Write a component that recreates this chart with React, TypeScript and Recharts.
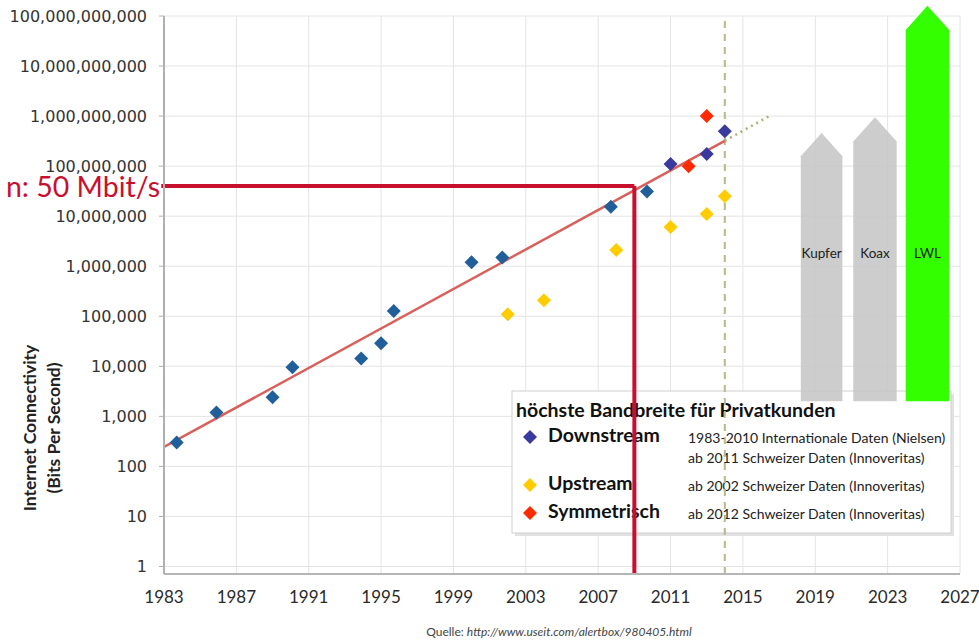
import React from "react";
import {
  CartesianGrid,
  ComposedChart,
  Customized,
  Line,
  ReferenceArea,
  ReferenceLine,
  Scatter,
  XAxis,
  YAxis,
} from "recharts";

// x axis: years, y axis: bits per second (log)
const yearTicks = [1983, 1987, 1991, 1995, 1999, 2003, 2007, 2011, 2015, 2019, 2023, 2027];
const minorYearTicks = Array.from({ length: 32 }, (_, i) => 1983 + i);
const bpsTicks = [1, 10, 100, 1e3, 1e4, 1e5, 1e6, 1e7, 1e8, 1e9, 1e10, 1e11];
const minorBpsTicks = bpsTicks.slice(0, -1).flatMap((d) => [2, 3, 4, 5, 6, 7, 8, 9].map((m) => m * d));
const bpsMin = 0.708;
const bpsMax = 1e11;

// Downstream 1983-2010 (Nielsen)
const nielsenYears = [1983.7, 1985.9, 1989, 1990.1, 1993.9, 1995, 1995.7, 2000, 2001.7, 2007.7, 2009.7];
const nielsenBps = [300, 1200, 2400, 9600, 14400, 28800, 128000, 1200000, 1500000, 15500000, 31000000];
// Downstream ab 2011 (Schweiz)
const swissDownYears = [2011, 2013, 2014];
const swissDownBps = [110000000, 175000000, 500000000];
// Upstream ab 2002
const upYears = [2002, 2004, 2008, 2011, 2013, 2014];
const upBps = [110000, 210000, 2100000, 6100000, 11000000, 25000000];
// Symmetrisch ab 2012
const symYears = [2012, 2013];
const symBps = [100000000, 1000000000];

// trend line and its dotted extension
const trendYears = [1983, 2014];
const trendBps = [245, 320000000];
const forecastYears = [2014, 2016.6];
const forecastBps = [320000000, 1070000000];

// technology arrows
const techNames = ["Kupfer", "Koax", "LWL"];
const techFrom = [2018.2, 2021.1, 2024.0];
const techTo = [2020.5, 2023.5, 2026.4];
const techPeak = [460000000, 950000000, 160000000000];
const techBase = 2000;
const techColors = ["#c6c6c6", "#c6c6c6", "#33ff00"];

// marker for 2009 / 50 Mbit/s
const markYear = 2009;
const markBps = 40000000;
const todayYear = 2014;

const toPoints = (years: number[], values: number[]) =>
  years.map((year, i) => ({ year, bps: values[i] }));

const FONT = "Lato, 'Open Sans', sans-serif";

const Diamond = (props: any) => {
  const { cx, cy, fill } = props;
  const r = 7;
  return <path d={`M${cx},${cy - r}L${cx + r},${cy}L${cx},${cy + r}L${cx - r},${cy}Z`} fill={fill} />;
};

const MinorYearTick = (props: any) => {
  const { x, y, payload } = props;
  const major = (payload.value - 1983) % 4 === 0;
  return <line x1={x} x2={x} y1={y} y2={y - (major ? 13 : 5)} stroke="#c6c6c6" strokeWidth={1.5} />;
};

const arrowShape = (label: string, color: string) => (props: any) => {
  const { x, y, width, height } = props;
  const head = width * 0.56;
  const bottom = y + height;
  return (
    <g>
      <path
        d={`M${x},${bottom}L${x},${y + head}L${x + width / 2},${y}L${x + width},${y + head}L${x + width},${bottom}Z`}
        fill={color}
        fillOpacity={color === "#33ff00" ? 1 : 0.88}
      />
      <text x={x + width / 2} y={bottom - 143} textAnchor="middle" fontFamily={FONT} fontSize={13.5} fill="#222">
        {label}
      </text>
    </g>
  );
};

const LegendBox = () => {
  const items = [
    { name: "Downstream", color: "#3a3a9e", y: 437, notes: ["1983-2010 Internationale Daten (Nielsen)", "ab 2011 Schweizer Daten (Innoveritas)"] },
    { name: "Upstream", color: "#ffcc00", y: 485, notes: ["ab 2002 Schweizer Daten (Innoveritas)"] },
    { name: "Symmetrisch", color: "#ff2a00", y: 513, notes: ["ab 2012 Schweizer Daten (Innoveritas)"] },
  ];
  return (
    <g fontFamily={FONT}>
      <rect x={515} y={394} width={439} height={142} fill="#e2e2e2" />
      <rect x={512} y={391} width={439} height={142} fill="#fff" stroke="#cfcfcf" />
      <text x={516} y={417} fontSize={19.5} fontWeight={700} fill="#111">
        höchste Bandbreite für Privatkunden
      </text>
      {items.map((it) => (
        <g key={it.name}>
          <Diamond cx={530} cy={it.y} fill={it.color} />
          <text x={548} y={it.y + 5} fontSize={19.5} fontWeight={700} fill="#111">
            {it.name}
          </text>
          {it.notes.map((n, i) => (
            <text key={n} x={688} y={it.y + 6 + i * 20} fontSize={14} fill="#222">
              {n}
            </text>
          ))}
        </g>
      ))}
    </g>
  );
};

const Annotations = () => (
  <g fontFamily={FONT}>
    <text x={160} y={197} textAnchor="end" fontSize={28.5} fill="#c8102e">
      n: 50 Mbit/s
    </text>
    <text transform="translate(36,428) rotate(-90)" textAnchor="middle" fontSize={17.5} fontWeight={700} fill="#222">
      Internet Connectivity
    </text>
    <text transform="translate(60,428) rotate(-90)" textAnchor="middle" fontSize={17.5} fontWeight={700} fill="#222">
      (Bits Per Second)
    </text>
    <text x={559} y={636} textAnchor="middle" fontSize={12} fill="#444">
      Quelle: <tspan fontStyle="italic">http://www.useit.com/alertbox/980405.html</tspan>
    </text>
  </g>
);

export default function App() {
  return (
    <div style={{ position: "absolute", left: 0, top: 0, width: 979, height: 641, background: "#fff" }}>
      <ComposedChart width={979} height={641} margin={{ top: 16, right: 19, bottom: 27, left: 0 }}>
        <CartesianGrid stroke="#e4e4e4" strokeWidth={1} />
        <XAxis
          xAxisId="minor"
          type="number"
          dataKey="year"
          domain={[1983, 2027]}
          ticks={minorYearTicks}
          allowDataOverflow
          height={0}
          axisLine={false}
          tickLine={false}
          tickSize={0}
          tick={<MinorYearTick />}
        />
        <XAxis
          type="number"
          dataKey="year"
          domain={[1983, 2027]}
          ticks={yearTicks}
          allowDataOverflow
          height={40}
          axisLine={{ stroke: "#b5b5b5", strokeWidth: 2 }}
          tickLine={false}
          tickSize={0}
          tickMargin={17}
          tick={{ fill: "#2a2a2a", fontSize: 17, fontFamily: FONT }}
        />
        <YAxis
          yAxisId="minor"
          scale="log"
          type="number"
          domain={[bpsMin, bpsMax]}
          ticks={minorBpsTicks}
          allowDataOverflow
          width={0}
          axisLine={false}
          tickSize={4}
          tickLine={{ stroke: "#c4c4c4" }}
          tickFormatter={() => ""}
        />
        <YAxis
          scale="log"
          type="number"
          dataKey="bps"
          domain={[bpsMin, bpsMax]}
          ticks={bpsTicks}
          allowDataOverflow
          width={164}
          axisLine={{ stroke: "#b0b0b0", strokeWidth: 2 }}
          tickSize={5}
          tickMargin={12}
          tickLine={{ stroke: "#b0b0b0" }}
          tick={{ fill: "#333", fontSize: 16, fontFamily: "DejaVu Sans" }}
          tickFormatter={(v: number) => v.toLocaleString("en-US")}
        />

        {techNames.map((name, i) => (
          <ReferenceArea
            key={name}
            x1={techFrom[i]}
            x2={techTo[i]}
            y1={techBase}
            y2={techPeak[i]}
            ifOverflow="visible"
            shape={arrowShape(name, techColors[i])}
          />
        ))}

        <ReferenceLine x={todayYear} stroke="#b8b88a" strokeWidth={2} strokeDasharray="7 6" />

        <Line
          data={toPoints(trendYears, trendBps)}
          dataKey="bps"
          stroke="#d9605a"
          strokeWidth={2.5}
          dot={false}
          isAnimationActive={false}
        />
        <Line
          data={toPoints(forecastYears, forecastBps)}
          dataKey="bps"
          stroke="#a9b070"
          strokeWidth={2.5}
          strokeDasharray="2 4"
          dot={false}
          isAnimationActive={false}
        />

        <Scatter data={toPoints(nielsenYears, nielsenBps)} dataKey="bps" fill="#215f9b" shape={Diamond} isAnimationActive={false} />
        <Scatter data={toPoints(upYears, upBps)} dataKey="bps" fill="#ffcc00" shape={Diamond} isAnimationActive={false} />
        <Scatter data={toPoints(swissDownYears, swissDownBps)} dataKey="bps" fill="#3a3a9e" shape={Diamond} isAnimationActive={false} />
        <Scatter data={toPoints(symYears, symBps)} dataKey="bps" fill="#ff2a00" shape={Diamond} isAnimationActive={false} />

        <Customized component={<LegendBox />} />

        <ReferenceLine
          segment={[{ x: 1982.85, y: markBps }, { x: markYear, y: markBps }]}
          stroke="#c8102e"
          strokeWidth={4}
          ifOverflow="visible"
        />
        <ReferenceLine
          segment={[{ x: markYear, y: markBps }, { x: markYear, y: bpsMin }]}
          stroke="#c8102e"
          strokeWidth={4}
          ifOverflow="visible"
        />

        <Customized component={<Annotations />} />
      </ComposedChart>
    </div>
  );
}
